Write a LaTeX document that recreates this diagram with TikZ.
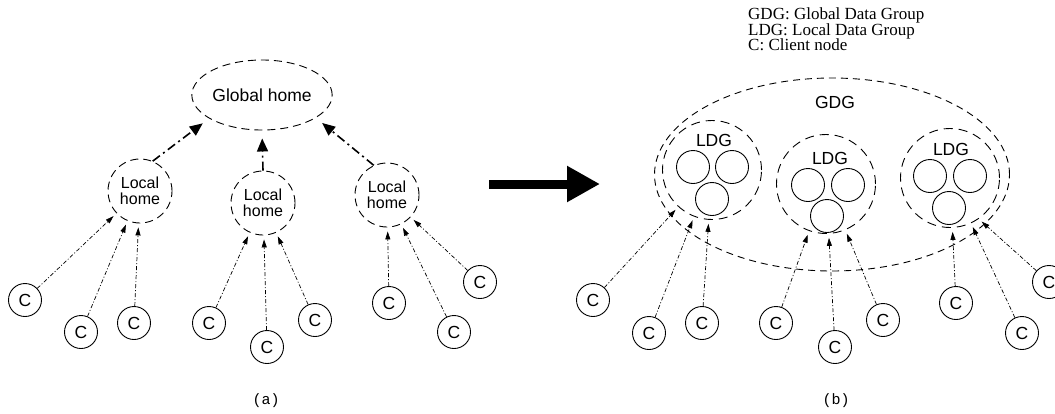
\documentclass[tikz,border=0pt]{standalone}
\usepackage{fontspec}
\setmainfont{Liberation Serif}
\setsansfont{Liberation Sans}
\setmonofont{Liberation Mono}
\usepackage{tikz}
\usetikzlibrary{shapes.geometric, arrows.meta, positioning}

\begin{document}
\begin{tikzpicture}[x=1pt, y=-1pt,
		every node/.style={font=\sffamily\fontsize{17.5}{13.5}\selectfont},
		client/.style={draw, circle, line width=0.9pt, minimum size=33pt, inner sep=0pt},
		member/.style={draw, circle, line width=0.9pt, minimum size=33pt, inner sep=0pt},
		home/.style={draw, circle, line width=0.9pt, dash pattern=on 8pt off 5pt, minimum size=64pt, inner sep=0pt, align=center, font=\sffamily\fontsize{16}{16}\selectfont},
		ldgring/.style={draw, circle, line width=0.9pt, dash pattern=on 9pt off 6pt, minimum size=99pt, inner sep=0pt},
		uplink/.style={line width=1.6pt, dash pattern=on 9pt off 4pt on 2pt off 4pt, -{Triangle[length=13pt,width=11pt]}, shorten >=8pt},
		request/.style={line width=0.7pt, dash pattern=on 4pt off 2pt on 1pt off 2pt, -{Triangle[length=8pt,width=5pt]}, shorten >=4pt}]
		\useasboundingbox (0,0) rectangle (1055,413);
		
		% (a) homes
		\node[draw, ellipse, line width=0.9pt, dash pattern=on 8pt off 5pt, minimum width=125pt, minimum height=70pt, inner sep=0pt] (GH) at (262,95) {Global home};
		\node[home] (LH1) at (140,191) {Local\\home};
		\node[home] (LH2) at (263,203) {Local\\home};
		\node[home] (LH3) at (387,195) {Local\\home};
		
		% (a) clients
		\node[client] (CA1) at (25,300) {C};
		\node[client] (CA2) at (81,332) {C};
		\node[client] (CA3) at (134,323) {C};
		\node[client] (CA4) at (209,323) {C};
		\node[client] (CA5) at (267,347) {C};
		\node[client] (CA6) at (315,320) {C};
		\node[client] (CA7) at (389,303) {C};
		\node[client] (CA8) at (454,332) {C};
		\node[client] (CA9) at (480,282) {C};
		
		% (a) arrows
		\draw[uplink] (LH1.67) -- (GH.204);
		\draw[uplink] (LH2.north) -- (GH.south);
		\draw[uplink] (LH3.114) -- (GH.337);
		\draw[request] (CA1) -- (LH1);
		\draw[request] (CA2) -- (LH1);
		\draw[request] (CA3) -- (LH1);
		\draw[request] (CA4) -- (LH2);
		\draw[request] (CA5) -- (LH2);
		\draw[request] (CA6) -- (LH2);
		\draw[request] (CA7) -- (LH3);
		\draw[request] (CA8) -- (LH3);
		\draw[request] (CA9) -- (LH3);
		
		% big arrow
		\coordinate (shaftstart) at (489,184);
		\coordinate (shaftend) at (600,184);
		\draw[line width=9pt, -{Triangle[length=33pt,width=34pt]}] (shaftstart) -- (shaftend);
		
		% (b) groups
		\node[draw, ellipse, line width=0.9pt, dash pattern=on 7pt off 5pt, minimum width=355pt, minimum height=193pt, inner sep=0pt] (GDG) at (832,174.5) {};
		\node (gdglabel) at (835,102) {GDG};
		
		\node[ldgring] (LDG1) at (712,170) {};
		\node[ldgring] (LDG2) at (826,184) {};
		\node[ldgring] (LDG3) at (950,178) {};
		\node (ldglabel1) at (714,140) {LDG};
		\node (ldglabel2) at (830,158) {LDG};
		\node (ldglabel3) at (951,149) {LDG};
		
		\node[member] (M1a) at (693,167) {};
		\node[member] (M1b) at (732,167) {};
		\node[member] (M1c) at (712,199) {};
		\node[member] (M2a) at (808,185) {};
		\node[member] (M2b) at (848,185) {};
		\node[member] (M2c) at (827,216) {};
		\node[member] (M3a) at (930,176) {};
		\node[member] (M3b) at (970,176) {};
		\node[member] (M3c) at (949,208) {};
		
		% (b) clients
		\node[client] (CB1) at (593,300) {C};
		\node[client] (CB2) at (649,333) {C};
		\node[client] (CB3) at (702,323) {C};
		\node[client] (CB4) at (776,323) {C};
		\node[client] (CB5) at (835,347) {C};
		\node[client] (CB6) at (883,320) {C};
		\node[client] (CB7) at (956,303) {C};
		\node[client] (CB8) at (1022,333) {C};
		\node[client] (CB9) at (1049,282) {C};
		
		% (b) arrows
		\draw[request] (CB1) -- (LDG1);
		\draw[request] (CB2) -- (LDG1);
		\draw[request] (CB3) -- (LDG1);
		\draw[request] (CB4) -- (LDG2);
		\draw[request] (CB5) -- (LDG2);
		\draw[request] (CB6) -- (LDG2);
		\draw[request] (CB7) -- (LDG3);
		\draw[request] (CB8) -- (LDG3);
		\draw[request] (CB9) -- (LDG3.305);
		
		% legend and captions
		\node[font=\rmfamily\fontsize{17}{15.5}\selectfont, anchor=base west, inner sep=0pt] (key1) at (748,19) {GDG: Global Data Group};
		\node[font=\rmfamily\fontsize{17}{15.5}\selectfont, anchor=base west, inner sep=0pt] (key2) at (748,35) {LDG: Local Data Group};
		\node[font=\rmfamily\fontsize{17}{15.5}\selectfont, anchor=base west, inner sep=0pt] (key3) at (748,50) {C: Client node};
		\node[font=\ttfamily\fontsize{15}{15}\selectfont, anchor=base] (capa) at (266,404) {(a)};
		\node[font=\ttfamily\fontsize{15}{15}\selectfont, anchor=base] (capb) at (836,404) {(b)};
\end{tikzpicture}
\end{document}
